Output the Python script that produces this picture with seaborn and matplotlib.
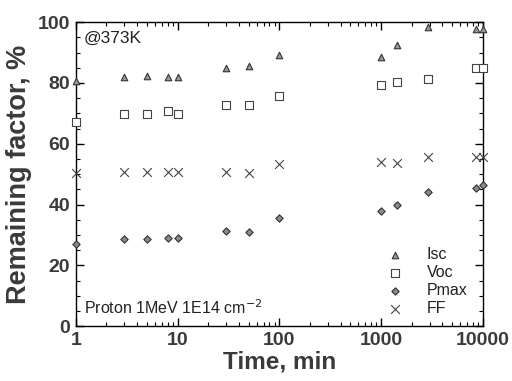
import matplotlib
matplotlib.use("Agg")
import matplotlib.pyplot as plt
import seaborn as sns
import pandas as pd
import numpy as np
from matplotlib.ticker import MultipleLocator, LogLocator, NullFormatter, FixedLocator, FixedFormatter

time_min = [1, 3, 5, 8, 10, 30, 50, 100, 1000, 1440, 2880, 8640, 10000]
isc = [80.6, 81.9, 82.2, 82.0, 82.0, 84.9, 85.5, 89.1, 88.5, 92.4, 98.4, 97.7, 97.7]
voc = [67.1, 69.7, 69.7, 70.7, 69.7, 72.7, 72.7, 75.7, 79.3, 80.3, 81.2, 84.9, 84.9]
pmax = [27.0, 28.6, 28.6, 28.9, 28.9, 31.3, 30.9, 35.5, 37.8, 39.8, 44.1, 45.4, 46.4]
ff = [50.3, 50.7, 50.7, 50.7, 50.7, 50.7, 50.3, 53.3, 53.9, 53.6, 55.6, 55.6, 55.6]
series_names = ["Isc", "Voc", "Pmax", "FF"]
x_ticks = [1, 10, 100, 1000, 10000]
x_ticklabels = ["1", "10", "100", "1000", "10000"]

sns.set_theme(style="white")
plt.rcParams['font.family'] = ['Liberation Sans', 'DejaVu Sans']

fig = plt.figure(figsize=(5.12, 3.81), dpi=100)
ax = fig.add_axes([0.148, 0.144, 0.795, 0.798])

styles = {
    "Isc": dict(marker="^", s=22, color="#9a9a9a", edgecolor="#333333", linewidth=0.8),
    "Voc": dict(marker="s", s=40, facecolor="white", edgecolor="#444444", linewidth=0.8),
    "Pmax": dict(marker="D", s=14, color="#8a8a8a", edgecolor="#333333", linewidth=0.8),
    "FF": dict(marker="x", s=40, color="#444444", linewidth=0.8),
}
values = {"Isc": isc, "Voc": voc, "Pmax": pmax, "FF": ff}
for name in series_names:
    df = pd.DataFrame({"Time": time_min, "Value": values[name]})
    sns.scatterplot(data=df, x="Time", y="Value", ax=ax, label=name, clip_on=False,
                    zorder=3, **styles[name])

ax.set_xscale("log")
ax.set_xlim(1, 10000)
ax.set_ylim(0, 100)
ax.xaxis.set_major_locator(FixedLocator(x_ticks))
ax.xaxis.set_major_formatter(FixedFormatter(x_ticklabels))
ax.xaxis.set_minor_locator(LogLocator(base=10, subs=np.arange(2, 10)))
ax.xaxis.set_minor_formatter(NullFormatter())
ax.yaxis.set_major_locator(MultipleLocator(20))
ax.yaxis.set_minor_locator(MultipleLocator(5))

for sp in ax.spines.values():
    sp.set_visible(True)
    sp.set_color("black")
    sp.set_linewidth(1.0)

ax.tick_params(which="both", direction="in", top=True, right=True, bottom=True, left=True, color="black")
ax.tick_params(which="major", length=6, width=1.0, labelsize=14, pad=4)
ax.tick_params(which="minor", length=3, width=0.8)
for lab in ax.get_xticklabels() + ax.get_yticklabels():
    lab.set_fontweight("bold")
    lab.set_color("#3a3a3a")

ax.set_xlabel("Time, min", fontsize=17.5, fontweight="bold", color="#3a3a3a", labelpad=1)
ax.set_ylabel("Remaining factor, %", fontsize=19.5, fontweight="bold", color="#3a3a3a", labelpad=4)

ax.text(0.02, 0.972, "@373K", transform=ax.transAxes, fontsize=12.5, color="#222222", va="top", ha="left")
ax.text(0.02, 0.03, "Proton 1MeV 1E14 cm$^{-2}$", transform=ax.transAxes, fontsize=11.5,
        color="#222222", va="bottom", ha="left")

leg = ax.legend(loc="lower right", bbox_to_anchor=(0.99, -0.005), frameon=False, fontsize=11.5,
                handletextpad=1.0, labelspacing=0.2, borderaxespad=0.3)
for t in leg.get_texts():
    t.set_color("#222222")

fig.savefig("out.png", dpi=100)
